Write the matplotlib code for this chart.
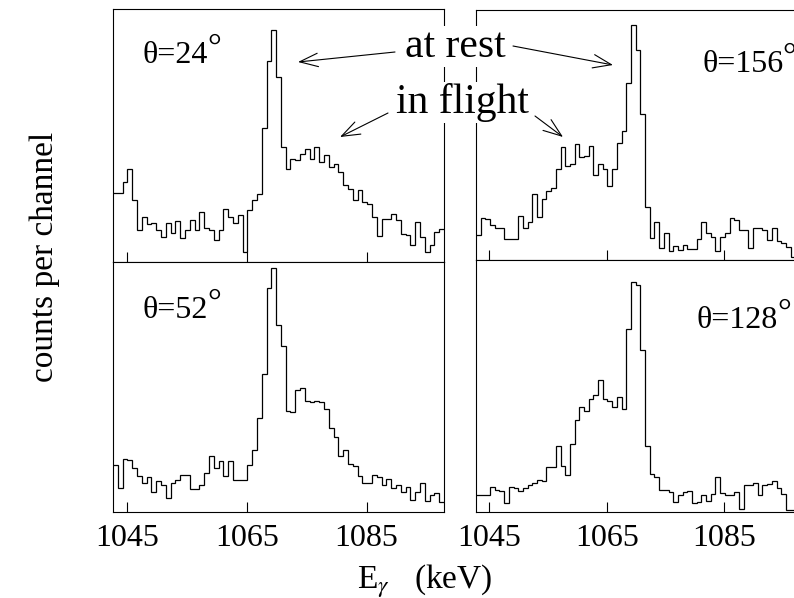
import numpy as np
import matplotlib.pyplot as plt
from matplotlib.patches import FancyArrowPatch

plt.rcParams['font.family'] = ['Liberation Serif', 'DejaVu Serif']
plt.rcParams['mathtext.fontset'] = 'stix'

W, H = 794, 598

# channel energies (keV)
E0 = 1042.7
BIN = 0.8
tick_energies = [1045, 1065, 1085]

# counts per channel
counts_24 = [69, 69, 80, 93, 62, 32, 45, 38, 39, 32,
             25, 39, 29, 41, 24, 32, 42, 32, 50, 34,
             32, 22, 32, 53, 45, 39, 47, 10, 52, 62,
             68, 133, 200, 231, 184, 115, 93, 103, 102, 108,
             113, 103, 115, 100, 107, 95, 98, 90, 77, 73,
             62, 72, 60, 58, 45, 26, 43, 43, 48, 42,
             28, 27, 17, 40, 25, 10, 17, 30, 33]
counts_156 = [25, 42, 41, 35, 32, 32, 21, 21, 21, 44,
              32, 38, 67, 43, 61, 70, 73, 92, 114, 95,
              97, 117, 104, 105, 115, 86, 97, 92, 75, 92,
              118, 130, 178, 237, 212, 147, 53, 22, 38, 12,
              27, 9, 14, 10, 15, 11, 11, 21, 38, 27,
              23, 9, 23, 27, 42, 40, 30, 30, 12, 32,
              32, 30, 20, 32, 19, 17, 13, 3, 7]
counts_52 = [47, 24, 53, 52, 44, 36, 29, 35, 20, 31,
             27, 14, 29, 32, 37, 37, 23, 23, 27, 39,
             56, 44, 51, 36, 51, 32, 32, 32, 47, 63,
             95, 139, 226, 246, 189, 167, 102, 101, 123, 125,
             112, 111, 112, 111, 104, 85, 76, 56, 62, 48,
             46, 36, 29, 29, 37, 35, 27, 33, 24, 27,
             20, 25, 12, 20, 29, 11, 17, 19, 10]
counts_128 = [17, 17, 17, 25, 22, 21, 9, 25, 24, 21,
              24, 27, 29, 32, 31, 45, 45, 66, 46, 37,
              68, 92, 105, 101, 113, 117, 132, 113, 111, 105,
              115, 103, 183, 230, 227, 162, 66, 38, 35, 22,
              22, 20, 10, 17, 20, 21, 9, 10, 17, 11,
              18, 35, 19, 17, 17, 20, 3, 27, 27, 29,
              17, 27, 28, 31, 24, 18, 2, 2, 20]

angles = ['24', '156', '52', '128']


def fig_xy(x, y):
    # pixel position (from top-left) -> figure fraction
    return x / W, 1 - y / H


fig = plt.figure(figsize=(W / 100, H / 100), dpi=100)


def panel(box, counts, angle, label_at, bottom_row):
    x0, y0, x1, y1 = box
    ax = fig.add_axes([x0 / W, 1 - y1 / H, (x1 - x0) / W, (y1 - y0) / H])
    edges = E0 + BIN * np.arange(len(counts) + 1)
    ax.stairs(counts, edges, color='black', linewidth=0.9, baseline=None)
    ax.set_xlim(edges[0], edges[-1])
    ax.set_ylim(0, 252)
    ax.set_yticks([])
    ax.set_xticks(tick_energies)
    ax.tick_params(axis='x', direction='in', length=7.5, width=0.8,
                   labelsize=23, pad=9, labelbottom=bottom_row)
    for s in ax.spines.values():
        s.set_linewidth(0.8)
    fx, fy = fig_xy(*label_at)
    t = fig.text(fx, fy, 'θ=' + angle, fontsize=23, ha='left', va='baseline')
    # degree ring, raised above the digits like a superscript
    fig.canvas.draw()
    bb = t.get_window_extent()
    fig.text((bb.x1 - 1) / W, fy + 5 / H, '°', fontsize=25,
             ha='left', va='baseline')
    return ax


panel((113, 9, 444, 262), counts_24, angles[0], (143, 63), False)
panel((476, 10, 800, 260), counts_156, angles[1], (702, 72), False)
panel((113, 262, 444, 512), counts_52, angles[2], (143, 318), True)
panel((476, 260, 800, 512), counts_128, angles[3], (697, 328), True)

# annotations
box = dict(facecolor='white', edgecolor='none', pad=1)
fig.text(*fig_xy(455, 57), 'at rest', fontsize=30, ha='center',
         va='baseline', bbox=box)
fig.text(*fig_xy(462, 113), 'in flight', fontsize=30, ha='center',
         va='baseline', bbox=box)

arrows = [((395, 52), (298, 62)), ((513, 46), (613, 65)),
          ((388, 113), (340, 137)), ((535, 116), (563, 137))]
for tail, head in arrows:
    fig.add_artist(FancyArrowPatch(fig_xy(*tail), fig_xy(*head),
                                   transform=fig.transFigure,
                                   arrowstyle='->,head_length=0.6,head_width=0.22',
                                   mutation_scale=22, linewidth=0.8,
                                   color='black', shrinkA=0, shrinkB=0))

fig.text(*fig_xy(45, 257), 'counts per channel', fontsize=24,
         rotation=90, ha='center', va='center')
fig.text(*fig_xy(425, 588), r'E$_{\gamma}$   (keV)', fontsize=24,
         ha='center', va='baseline')

fig.savefig('out.png', dpi=100)
